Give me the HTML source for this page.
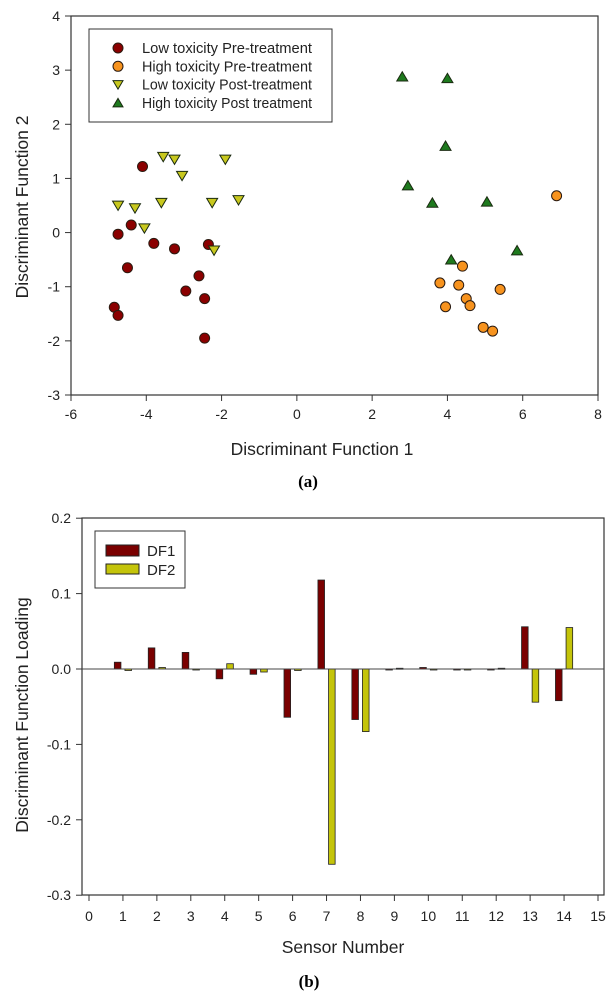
<!DOCTYPE html>
<html><head><meta charset="utf-8"><style>
body{margin:0;background:#fff;}
svg{display:block;font-family:"Liberation Sans",Arial,sans-serif;}
</style></head><body>
<svg id="s" width="616" height="1000"></svg>
<script>
// ---- Chart (a) data ----
const lowPreX=[-4.1,-4.4,-4.75,-3.8,-3.25,-2.35,-4.5,-2.6,-2.95,-2.45,-4.85,-4.75,-2.45];
const lowPreY=[1.22,0.14,-0.03,-0.2,-0.3,-0.22,-0.65,-0.8,-1.08,-1.22,-1.38,-1.53,-1.95];
const highPreX=[6.9,4.4,3.8,4.3,4.5,4.6,3.95,5.4,4.95,5.2];
const highPreY=[0.68,-0.62,-0.93,-0.97,-1.22,-1.35,-1.37,-1.05,-1.75,-1.82];
const lowPostX=[-3.55,-3.25,-3.05,-1.9,-4.75,-4.3,-3.6,-2.25,-1.55,-4.05,-2.2];
const lowPostY=[1.4,1.35,1.05,1.35,0.5,0.45,0.55,0.55,0.6,0.08,-0.33];
const highPostX=[2.8,4.0,3.95,2.95,3.6,5.05,5.85,4.1];
const highPostY=[2.88,2.85,1.6,0.87,0.55,0.57,-0.33,-0.5];
const aXTicks=[-6,-4,-2,0,2,4,6,8];
const aYTicks=[-3,-2,-1,0,1,2,3,4];
// ---- Chart (b) data ----
const sensors=[1,2,3,4,5,6,7,8,9,10,11,12,13,14];
const df1=[0.009,0.028,0.022,-0.013,-0.007,-0.064,0.118,-0.067,-0.001,0.002,-0.001,-0.001,0.056,-0.042];
const df2=[-0.002,0.002,-0.001,0.007,-0.004,-0.002,-0.259,-0.083,0.001,-0.001,-0.001,0.001,-0.044,0.055];
const bXTicks=[0,1,2,3,4,5,6,7,8,9,10,11,12,13,14,15];
const bYTicks=["-0.3","-0.2","-0.1","0.0","0.1","0.2"];

const NS="http://www.w3.org/2000/svg";
const svg=document.getElementById('s');
function mk(tag,attrs,parent){const e=document.createElementNS(NS,tag);for(const k in attrs)e.setAttribute(k,attrs[k]);(parent||svg).appendChild(e);return e;}
function txt(x,y,s,attrs){const e=mk('text',Object.assign({x:x,y:y,fill:'#222','font-size':14},attrs||{}));e.textContent=s;return e;}

// ---- Chart (a) ----
const ax=v=>71+(v+6)*(598-71)/14;
const ay=v=>16+(4-v)*(395-16)/7;
const ga=mk('g',{});


const fa=mk('rect',{x:71,y:16,width:527,height:379,fill:'none',stroke:'#333','stroke-width':1.2},ga);


aXTicks.forEach(t=>{mk('line',{x1:ax(t),x2:ax(t),y1:395,y2:401,stroke:'#333'},ga);
 const l=txt(ax(t),419,String(t),{'text-anchor':'middle'});});
aYTicks.forEach(t=>{mk('line',{x1:65,x2:71,y1:ay(t),y2:ay(t),stroke:'#333'},ga);
 const l=txt(60,ay(t)+5,String(t),{'text-anchor':'end'});});
let t1=txt(322,455,'Discriminant Function 1',{'text-anchor':'middle','font-size':17.5});

let t2=txt(0,0,'Discriminant Function 2',{'text-anchor':'middle','font-size':17.5,transform:'translate(28,207) rotate(-90)'});

let ca=txt(308,487,'(a)',{'text-anchor':'middle','font-size':17,'font-weight':'bold','font-family':'"Liberation Serif",serif',fill:'#000'});


function circle(x,y,fill,name){const c=mk('circle',{cx:x,cy:y,r:5,fill:fill,stroke:'#2a1a10','stroke-width':1},ga);}
function tri(x,y,fill,down,name){const s=5.5;const p=down?`${x-s},${y-s*0.8} ${x+s},${y-s*0.8} ${x},${y+s*0.9}`:`${x-s},${y+s*0.8} ${x+s},${y+s*0.8} ${x},${y-s*0.9}`;
 const e=mk('polygon',{points:p,fill:fill,stroke:'#1a2a10','stroke-width':1},ga);}
lowPreX.forEach((v,i)=>circle(ax(v),ay(lowPreY[i]),'#8b0000','low-pre-point'));
highPreX.forEach((v,i)=>circle(ax(v),ay(highPreY[i]),'#f7931e','high-pre-point'));
lowPostX.forEach((v,i)=>tri(ax(v),ay(lowPostY[i]),'#c8c81e',true,'low-post-point'));
highPostX.forEach((v,i)=>tri(ax(v),ay(highPostY[i]),'#1e7a1e',false,'high-post-point'));
// legend a
const la=mk('g',{},ga);
mk('rect',{x:89,y:29,width:243,height:93,fill:'#fff',stroke:'#333'},la);
const legA=[['Low toxicity Pre-treatment','c','#8b0000'],['High toxicity Pre-treatment','c','#f7931e'],['Low toxicity Post-treatment','d','#c8c81e'],['High toxicity Post treatment','u','#1e7a1e']];
legA.forEach((e,i)=>{const y=48+i*18.3;
 if(e[1]=='c'){mk('circle',{cx:118,cy:y,r:5,fill:e[2],stroke:'#2a1a10'},la);}
 else{const s=5;const p=e[1]=='d'?`${118-s},${y-4} ${118+s},${y-4} ${118},${y+4.5}`:`${118-s},${y+4} ${118+s},${y+4} ${118},${y-4.5}`;mk('polygon',{points:p,fill:e[2],stroke:'#1a2a10'},la);}
 const l=txt(142,y+5,e[0],{'font-size':15,textLength:170,lengthAdjust:'spacingAndGlyphs'});});

// ---- Chart (b) ----
const bx=v=>89+v*(598-89)/15;
const by=v=>669-v*754;
const gb=mk('g',{});


const fb=mk('rect',{x:82,y:518,width:522,height:377,fill:'none',stroke:'#333','stroke-width':1.2},gb);

bXTicks.forEach(t=>{mk('line',{x1:bx(t),x2:bx(t),y1:895,y2:901,stroke:'#333'},gb);
 const l=txt(bx(t),921,String(t),{'text-anchor':'middle'});});
bYTicks.forEach(t=>{const v=parseFloat(t);mk('line',{x1:76,x2:82,y1:by(v),y2:by(v),stroke:'#333'},gb);
 const l=txt(71,by(v)+5,t,{'text-anchor':'end'});});
function bar(cx,v,fill,name){const y0=by(0),y1=by(v);const e=mk('rect',{x:cx-3.3,y:Math.min(y0,y1),width:6.6,height:Math.max(1,Math.abs(y1-y0)),fill:fill,stroke:'#222','stroke-width':0.8},gb);}
sensors.forEach((s,i)=>{bar(bx(s)-5.3,df1[i],'#7a0000','bar-df1-sensor-'+s);bar(bx(s)+5.3,df2[i],'#c4c40a','bar-df2-sensor-'+s);});
mk('line',{x1:82,x2:604,y1:by(0),y2:by(0),stroke:'#444','stroke-width':1},gb);
let t3=txt(343,953,'Sensor Number',{'text-anchor':'middle','font-size':17.5});

let t4=txt(0,0,'Discriminant Function Loading',{'text-anchor':'middle','font-size':17.5,transform:'translate(28,715) rotate(-90)'});

let cb=txt(309,987,'(b)',{'text-anchor':'middle','font-size':17,'font-weight':'bold','font-family':'"Liberation Serif",serif',fill:'#000'});

const lb=mk('g',{},gb);
mk('rect',{x:95,y:531,width:90,height:57,fill:'#fff',stroke:'#333'},lb);
mk('rect',{x:106,y:545,width:33,height:11,fill:'#7a0000',stroke:'#222'},lb);
mk('rect',{x:106,y:564,width:33,height:10,fill:'#c4c40a',stroke:'#222'},lb);
let l1=txt(147,556,'DF1',{'font-size':15});
let l2=txt(147,575,'DF2',{'font-size':15});
</script>
</body></html>
